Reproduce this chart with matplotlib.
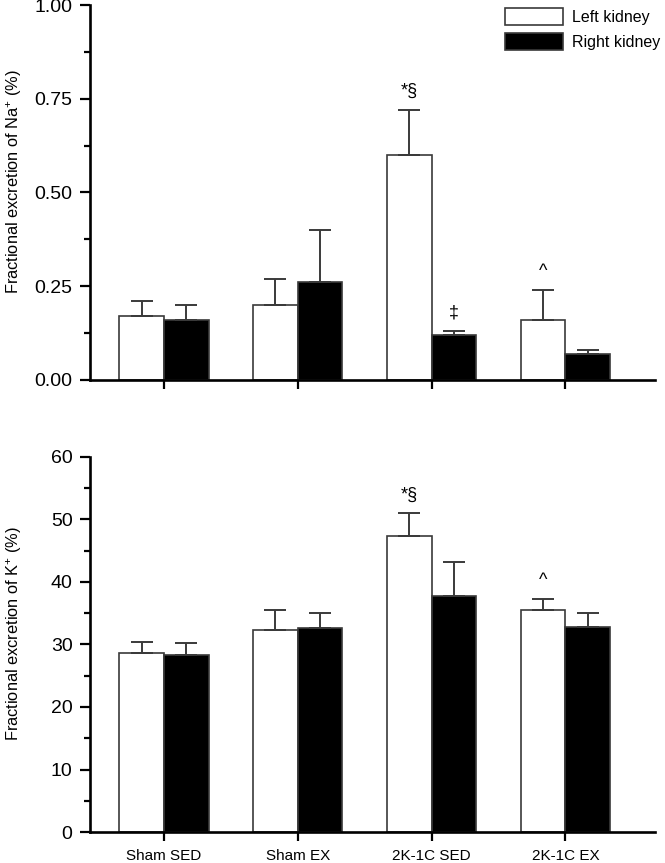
import numpy as np
import matplotlib
matplotlib.use("Agg")
import matplotlib.pyplot as plt
from matplotlib.patches import Patch
from matplotlib.ticker import MultipleLocator, FormatStrFormatter

plt.rcParams["font.family"] = ["Liberation Sans", "DejaVu Sans"]
plt.rcParams["mathtext.fontset"] = "custom"
plt.rcParams["mathtext.rm"] = "Liberation Sans"
plt.rcParams["mathtext.default"] = "regular"

# ---- data ---------------------------------------------------------
groups = ["Sham SED", "Sham EX", "2K-1C SED", "2K-1C EX"]

na_left = [0.17, 0.20, 0.60, 0.16]
na_left_err = [0.04, 0.07, 0.12, 0.08]
na_right = [0.16, 0.26, 0.12, 0.07]
na_right_err = [0.04, 0.14, 0.01, 0.01]

k_left = [28.6, 32.3, 47.3, 35.5]
k_left_err = [1.8, 3.2, 3.7, 1.8]
k_right = [28.3, 32.6, 37.8, 32.8]
k_right_err = [2.0, 2.5, 5.4, 2.3]

# (group index, 0=left/1=right, symbol)
na_marks = [(2, 0, "*§"), (2, 1, "‡"), (3, 0, "^")]
k_marks = [(2, 0, "*§"), (3, 0, "^")]

EDGE = "#3a3a3a"
W = 1 / 3

fig = plt.figure(figsize=(6.65, 8.63), dpi=100)
ax1 = fig.add_axes([0.1353, 0.5597, 0.8496, 0.4345])
ax2 = fig.add_axes([0.1353, 0.0359, 0.8496, 0.4346])


def draw(ax, left, left_err, right, right_err, marks, ymax, major, minor, ylabel):
    x = np.arange(len(groups))
    kw = dict(width=W, edgecolor=EDGE, linewidth=1.2, zorder=2,
              error_kw=dict(ecolor=EDGE, elinewidth=1.4, capsize=8, capthick=1.4))
    ax.bar(x - W / 2, left, yerr=[np.zeros(len(left)), left_err],
           color="white", label="Left kidney", **kw)
    ax.bar(x + W / 2, right, yerr=[np.zeros(len(right)), right_err],
           color="black", label="Right kidney", **kw)
    tops_l = np.array(left) + np.array(left_err)
    tops_r = np.array(right) + np.array(right_err)
    for g, side, s in marks:
        xx = x[g] + (W / 2 if side else -W / 2)
        yy = tops_r[g] if side else tops_l[g]
        ax.annotate(s, (xx, yy), xytext=(0, 7), textcoords="offset points",
                    ha="center", va="bottom", fontsize=13)
    ax.set_xlim(-0.553, 3.67)
    ax.set_ylim(0, ymax)
    ax.set_xticks(x)
    ax.yaxis.set_major_locator(MultipleLocator(major))
    ax.yaxis.set_minor_locator(MultipleLocator(minor))
    for sp in ("top", "right"):
        ax.spines[sp].set_visible(False)
    for sp in ("left", "bottom"):
        ax.spines[sp].set_linewidth(1.9)
    ax.tick_params(axis="y", which="major", length=7.5, width=1.6, labelsize=14, pad=5)
    ax.tick_params(axis="y", which="minor", length=4.5, width=1.6)
    ax.tick_params(axis="x", length=6.5, width=1.6, labelsize=11, pad=6)
    ax.set_ylabel(ylabel, fontsize=11.8)
    ax.yaxis.set_label_coords(-0.116, 0.53)


draw(ax1, na_left, na_left_err, na_right, na_right_err, na_marks,
     1.0, 0.25, 0.125, "Fractional excretion of Na$^{+}$ (%)")
ax1.yaxis.set_major_formatter(FormatStrFormatter("%.2f"))
ax1.set_xticklabels([])

draw(ax2, k_left, k_left_err, k_right, k_right_err, k_marks,
     60, 10, 5, "Fractional excretion of K$^{+}$ (%)")
ax2.set_xticklabels(groups)

handles = [Patch(facecolor="white", edgecolor=EDGE, linewidth=1.2, label="Left kidney"),
           Patch(facecolor="black", edgecolor=EDGE, linewidth=1.2, label="Right kidney")]
fig.legend(handles=handles, loc="upper left", bbox_to_anchor=(0.748, 1.0),
           frameon=False, fontsize=11.5, handlelength=3.6, handleheight=1.3,
           handletextpad=0.6, labelspacing=0.45, borderaxespad=0.1)

fig.savefig("out.png", dpi=100)
